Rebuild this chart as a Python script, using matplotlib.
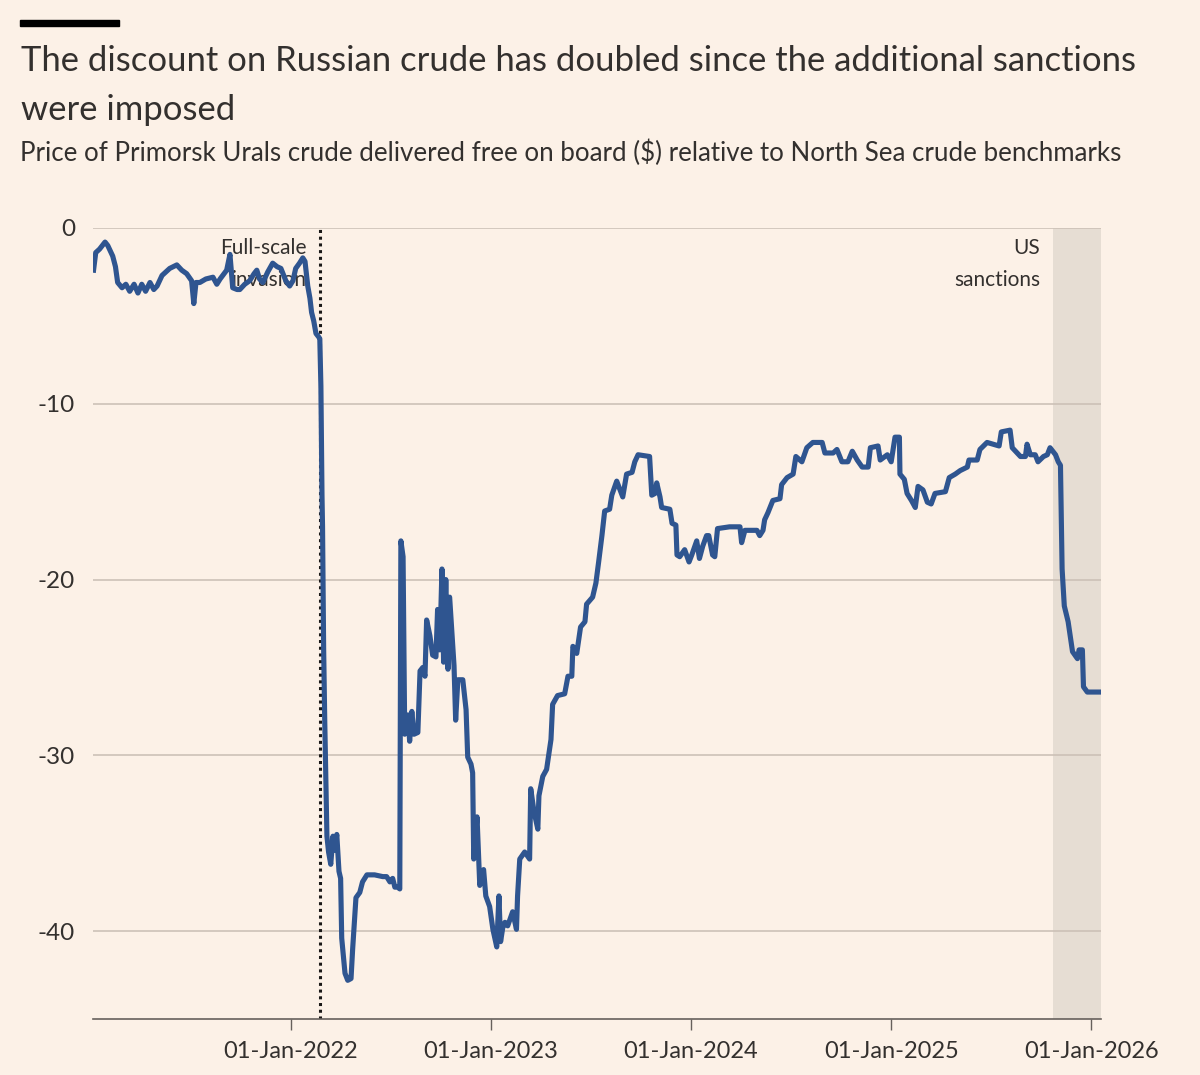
import matplotlib
matplotlib.use("Agg")
import matplotlib.pyplot as plt
import matplotlib.dates as mdates
import pandas as pd
from matplotlib.patches import Rectangle

# ---------------- data ----------------
dates = [
    "2021-01-06", "2021-01-10", "2021-01-17", "2021-01-27", "2021-02-01", "2021-02-10", "2021-02-15",
    "2021-02-19", "2021-02-27", "2021-03-06", "2021-03-13", "2021-03-21", "2021-03-28", "2021-04-04",
    "2021-04-11", "2021-04-19", "2021-04-26", "2021-05-02", "2021-05-11", "2021-05-18", "2021-05-25",
    "2021-06-07", "2021-06-16", "2021-06-25", "2021-07-04", "2021-07-08", "2021-07-12", "2021-07-19",
    "2021-07-30", "2021-08-12", "2021-08-19", "2021-08-25", "2021-09-06", "2021-09-12", "2021-09-17",
    "2021-09-25", "2021-09-30", "2021-10-09", "2021-10-18", "2021-10-26", "2021-10-31", "2021-11-05",
    "2021-11-11", "2021-11-20", "2021-11-29", "2021-12-07", "2021-12-14", "2021-12-23", "2021-12-30",
    "2022-01-05", "2022-01-10", "2022-01-17", "2022-01-23", "2022-01-27", "2022-02-01", "2022-02-05",
    "2022-02-08", "2022-02-12", "2022-02-16", "2022-02-21", "2022-02-23", "2022-02-25", "2022-02-27",
    "2022-02-28", "2022-03-02", "2022-03-04", "2022-03-06", "2022-03-08", "2022-03-11", "2022-03-15",
    "2022-03-19", "2022-03-22", "2022-03-26", "2022-03-30", "2022-04-02", "2022-04-04", "2022-04-10",
    "2022-04-15", "2022-04-21", "2022-04-24", "2022-04-30", "2022-05-07", "2022-05-12", "2022-05-20",
    "2022-06-03", "2022-06-18", "2022-06-25", "2022-07-01", "2022-07-06", "2022-07-10", "2022-07-15",
    "2022-07-19", "2022-07-21", "2022-07-25", "2022-07-28", "2022-08-03", "2022-08-06", "2022-08-10",
    "2022-08-14", "2022-08-21", "2022-08-25", "2022-08-30", "2022-09-03", "2022-09-06", "2022-09-12",
    "2022-09-17", "2022-09-23", "2022-09-26", "2022-09-30", "2022-10-04", "2022-10-07", "2022-10-11",
    "2022-10-15", "2022-10-18", "2022-10-22", "2022-10-26", "2022-10-29", "2022-11-02", "2022-11-11",
    "2022-11-17", "2022-11-20", "2022-11-26", "2022-11-29", "2022-12-01", "2022-12-07", "2022-12-10",
    "2022-12-12", "2022-12-19", "2022-12-23", "2022-12-30",
    "2023-01-05", "2023-01-12", "2023-01-16", "2023-01-19", "2023-01-23", "2023-01-27", "2023-02-01",
    "2023-02-10", "2023-02-17", "2023-02-19", "2023-02-23", "2023-03-04", "2023-03-13", "2023-03-15",
    "2023-03-21", "2023-03-28", "2023-03-30", "2023-04-06", "2023-04-13", "2023-04-21", "2023-04-24",
    "2023-05-03", "2023-05-16", "2023-05-22", "2023-05-29", "2023-05-31", "2023-06-07", "2023-06-14",
    "2023-06-22", "2023-06-25", "2023-07-06", "2023-07-12", "2023-07-17", "2023-07-23", "2023-07-28",
    "2023-08-06", "2023-08-10", "2023-08-19", "2023-08-25", "2023-08-30", "2023-09-06", "2023-09-16",
    "2023-09-21", "2023-09-27", "2023-10-18", "2023-10-22", "2023-10-28", "2023-10-31", "2023-11-06",
    "2023-11-09", "2023-11-24", "2023-11-28", "2023-12-05", "2023-12-07", "2023-12-12", "2023-12-21",
    "2023-12-29",
    "2024-01-03", "2024-01-12", "2024-01-17", "2024-01-23", "2024-01-30", "2024-02-03", "2024-02-10",
    "2024-02-14", "2024-02-19", "2024-03-12", "2024-03-31", "2024-04-03", "2024-04-09", "2024-05-01",
    "2024-05-06", "2024-05-12", "2024-05-15", "2024-05-21", "2024-05-30", "2024-06-12", "2024-06-15",
    "2024-06-25", "2024-07-06", "2024-07-11", "2024-07-22", "2024-07-31", "2024-08-11", "2024-08-28",
    "2024-09-02", "2024-09-17", "2024-09-24", "2024-10-03", "2024-10-14", "2024-10-22", "2024-10-31",
    "2024-11-09", "2024-11-20", "2024-11-24", "2024-12-08", "2024-12-12", "2024-12-25",
    "2025-01-01", "2025-01-08", "2025-01-16", "2025-01-17", "2025-01-25", "2025-01-30", "2025-02-07",
    "2025-02-14", "2025-02-19", "2025-02-28", "2025-03-08", "2025-03-15", "2025-03-22", "2025-04-10",
    "2025-04-17", "2025-04-28", "2025-05-07", "2025-05-20", "2025-05-23", "2025-06-07", "2025-06-12",
    "2025-06-25", "2025-07-06", "2025-07-17", "2025-07-21", "2025-08-06", "2025-08-10", "2025-08-19",
    "2025-08-25", "2025-09-03", "2025-09-06", "2025-09-12", "2025-09-21", "2025-09-26", "2025-10-06",
    "2025-10-13", "2025-10-18", "2025-10-28", "2025-11-02", "2025-11-06", "2025-11-09", "2025-11-13",
    "2025-11-20", "2025-11-28", "2025-12-07", "2025-12-10", "2025-12-16", "2025-12-18", "2025-12-25",
    "2026-01-18",
]
discount = [
    -2.4, -1.4, -1.2, -0.8, -1.0, -1.6, -2.2,
    -3.1, -3.4, -3.2, -3.6, -3.2, -3.7, -3.2,
    -3.6, -3.1, -3.5, -3.3, -2.7, -2.5, -2.3,
    -2.1, -2.4, -2.6, -3.0, -4.3, -3.1, -3.1,
    -2.9, -2.8, -3.2, -2.9, -2.4, -1.5, -3.4,
    -3.5, -3.5, -3.2, -3.0, -2.6, -2.4, -2.9,
    -3.1, -2.5, -2.0, -2.2, -2.3, -3.0, -3.3,
    -3.0, -2.3, -2.0, -1.7, -1.9, -3.3, -4.0,
    -4.8, -5.3, -6.0, -6.2, -6.3, -9.0, -15.2,
    -17.0, -23.9, -28.0, -31.4, -34.6, -35.5, -36.2,
    -34.6, -35.4, -34.5, -36.6, -37.0, -40.4, -42.4,
    -42.8, -42.7, -41.0, -38.1, -37.8, -37.2, -36.8,
    -36.8, -36.9, -36.9, -37.2, -37.0, -37.5, -37.5,
    -37.6, -17.8, -18.7, -28.8, -27.7, -29.2, -27.5,
    -28.8, -28.7, -25.2, -25.0, -25.5, -22.3, -23.2,
    -24.3, -24.4, -21.7, -24.0, -19.4, -24.7, -20.0,
    -25.1, -21.0, -23.0, -24.9, -28.0, -25.7, -25.7,
    -27.4, -30.1, -30.5, -31.0, -35.9, -33.5, -35.9,
    -37.4, -36.5, -38.0, -38.6,
    -39.9, -40.9, -38.0, -40.6, -39.8, -39.5, -39.7,
    -38.9, -39.9, -38.0, -35.9, -35.5, -35.9, -31.9,
    -33.2, -34.2, -32.3, -31.2, -30.8, -29.1, -27.1,
    -26.6, -26.5, -25.5, -25.5, -23.8, -24.2, -22.7,
    -22.4, -21.4, -21.0, -20.2, -19.0, -17.5, -16.1,
    -16.0, -15.2, -14.4, -14.9, -15.3, -14.0, -13.9,
    -13.3, -12.9, -13.0, -15.2, -15.1, -14.5, -15.3,
    -15.9, -16.0, -16.8, -16.9, -18.6, -18.7, -18.3,
    -19.0,
    -18.6, -17.8, -18.8, -18.1, -17.5, -17.5, -18.6,
    -18.7, -17.1, -17.0, -17.0, -17.9, -17.2, -17.2,
    -17.5, -17.2, -16.6, -16.2, -15.5, -15.4, -14.6,
    -14.2, -14.0, -13.0, -13.3, -12.5, -12.2, -12.2,
    -12.8, -12.8, -12.6, -13.3, -13.3, -12.7, -13.2,
    -13.6, -13.6, -12.5, -12.4, -13.2, -12.9,
    -13.3, -11.9, -11.9, -14.0, -14.3, -15.1, -15.5,
    -15.9, -14.7, -14.9, -15.6, -15.7, -15.1, -15.0,
    -14.2, -14.0, -13.8, -13.6, -13.2, -13.2, -12.6,
    -12.2, -12.3, -12.4, -11.6, -11.5, -12.5, -12.8,
    -13.0, -13.0, -12.3, -12.9, -12.9, -13.3, -13.0,
    -12.9, -12.5, -12.9, -13.3, -13.5, -19.4, -21.5,
    -22.4, -24.1, -24.5, -24.0, -24.0, -26.1, -26.4,
    -26.4,
]

y_ticks = [0, -10, -20, -30, -40]
x_ticks = ["2022-01-01", "2023-01-01", "2024-01-01", "2025-01-01", "2026-01-01"]
invasion_date = "2022-02-24"
sanctions_start = "2025-10-23"
x_range = ["2021-01-05", "2026-01-19"]

title = "The discount on Russian crude has doubled since the additional sanctions\nwere imposed"
subtitle = "Price of Primorsk Urals crude delivered free on board ($) relative to North Sea crude benchmarks"

# ---------------- style ----------------
BG = "#fcf1e7"
TEXT = "#33302e"
TICK = "#66605c"
GRID = "#ccc1b7"
LINE = "#2f5590"
SHADE = "#e6ddd3"
FONT = ["Lato", "DejaVu Sans"]
plt.rcParams["font.family"] = FONT

W, H = 1200, 1075
fig = plt.figure(figsize=(W / 100, H / 100), dpi=100, facecolor=BG)

left, right, top, bottom = 93, 1101, 228, 1019
ax = fig.add_axes([left / W, 1 - bottom / H, (right - left) / W, (bottom - top) / H])
ax.set_facecolor(BG)

x = pd.to_datetime(dates)
xr = pd.to_datetime(x_range)

ax.axvspan(pd.Timestamp(sanctions_start), xr[1], color=SHADE, zorder=0, lw=0)
for yv in y_ticks:
    ax.axhline(yv, color=GRID, lw=1.2, zorder=1)

ax.axvline(pd.Timestamp(invasion_date), color="#1a1817", lw=2.2, ls=(0, (1, 1.2)), zorder=2)

ax.text(pd.Timestamp("2022-01-30"), -2.05, "Full-scale\ninvasion", ha="right", va="center",
        fontsize=15, color=TEXT, linespacing=1.72, zorder=2)
ax.text(pd.Timestamp("2025-09-30"), -2.05, "US\nsanctions", ha="right", va="center",
        fontsize=15, color=TEXT, linespacing=1.72, zorder=2)

ax.plot(x, discount, color=LINE, lw=3.7, solid_joinstyle="round", zorder=3)

ax.set_xlim(xr[0], xr[1])
ax.set_ylim(-45, 0)

ax.set_yticks(y_ticks)
ax.set_yticklabels([str(v) for v in y_ticks])
ax.tick_params(axis="y", length=0, pad=13, labelsize=17.5, labelcolor=TEXT)

xt = pd.to_datetime(x_ticks)
ax.set_xticks(xt)
ax.xaxis.set_major_formatter(mdates.DateFormatter("%d-%b-%Y"))
ax.tick_params(axis="x", length=8, width=1, color=TICK, pad=8, labelsize=17, labelcolor=TEXT)

for s in ["top", "right", "left"]:
    ax.spines[s].set_visible(False)
ax.spines["bottom"].set_color(TICK)
ax.spines["bottom"].set_linewidth(1.2)
ax.spines["bottom"].set_zorder(4)

# header
fig.patches.append(Rectangle((20 / W, 1 - 26 / H), 99 / W, 6 / H, transform=fig.transFigure,
                             color="#000000", zorder=5))
fig.text(21 / W, 1 - 71 / H, title.split("\n")[0], fontsize=24.9, color=TEXT, va="baseline", ha="left")
fig.text(21 / W, 1 - 120 / H, title.split("\n")[1], fontsize=24.9, color=TEXT, va="baseline", ha="left")
fig.text(20 / W, 1 - 161 / H, subtitle, fontsize=18.6, color=TEXT, va="baseline", ha="left")

fig.savefig("out.png", dpi=100, facecolor=BG)
